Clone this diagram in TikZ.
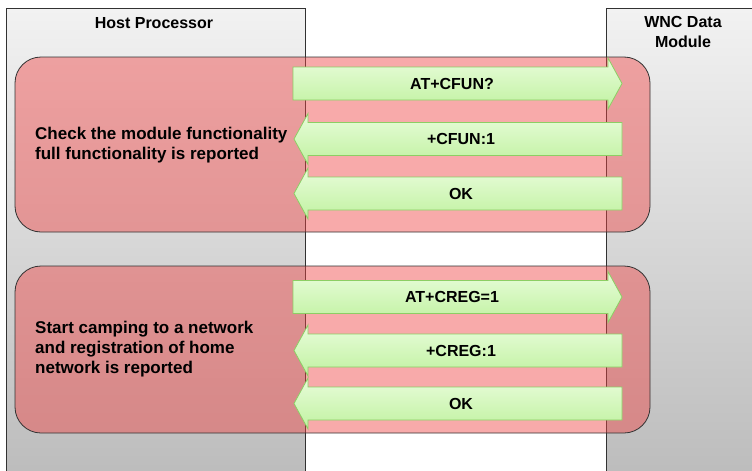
\documentclass[tikz,border=0pt]{standalone}
\usepackage{fontspec}
\setmainfont{Liberation Sans}
\definecolor{laneTop}{RGB}{242,242,242}
\definecolor{laneBot}{RGB}{186,186,186}
\definecolor{laneLine}{RGB}{50,50,50}
\definecolor{groupFill}{RGB}{240,68,68}
\definecolor{groupLine}{RGB}{50,50,50}
\definecolor{msgTop}{RGB}{232,252,218}
\definecolor{msgBot}{RGB}{192,242,160}
\definecolor{msgLine}{RGB}{140,206,100}
\tikzset{
  lane/.style={draw=laneLine, line width=0.8pt, top color=laneTop, bottom color=laneBot},
  lanetitle/.style={font=\bfseries\fontsize{16}{20}\selectfont, align=center, inner sep=0pt},
  group/.style={draw=groupLine, line width=0.8pt, fill=groupFill, fill opacity=0.45, rounded corners=26pt},
  grouptext/.style={font=\bfseries\fontsize{17}{20}\selectfont, align=left, anchor=west, inner sep=0pt},
  msgbox/.style={draw=msgLine, line width=0.8pt, top color=msgTop, bottom color=msgBot},
  msgtext/.style={font=\bfseries\fontsize{16}{20}\selectfont, inner sep=0pt, text height=11.5pt, text depth=0pt},
}
% block arrow pointing right, centred at height #1
\newcommand\msgR[1]{%
  \path[msgbox] (293,#1-16.5) -- (608,#1-16.5) -- (608,#1-25.5) -- (622,#1)
    -- (608,#1+25.5) -- (608,#1+16.5) -- (293,#1+16.5) -- cycle;}
% block arrow pointing left, centred at height #1
\newcommand\msgL[1]{%
  \path[msgbox] (622,#1-16.5) -- (308,#1-16.5) -- (308,#1-25.5) -- (294,#1)
    -- (308,#1+25.5) -- (308,#1+16.5) -- (622,#1+16.5) -- cycle;}
\begin{document}
\begin{tikzpicture}[x=1pt,y=-1pt]
\useasboundingbox (0,0) rectangle (752,471);
\clip (0,0) rectangle (752,471);
\fill[white] (0,0) rectangle (752,471);

% lifelines
\path[lane] (6,8) rectangle (305,495);
\path[lane] (606,8) rectangle (762,495);
\node[lanetitle] (host) at (154,23) {Host Processor};
\node[lanetitle] (wnc) at (683,32) {WNC Data\\Module};

% first exchange: functionality check
\path[group] (15,57) rectangle (650,232);
\node[grouptext] (g1) at (35,145) {Check the module functionality\\full functionality  is reported};
\msgR{83.5}
\node[msgtext] (m1) at (452,83.5) {AT+CFUN?};
\msgL{139}
\node[msgtext] (m2) at (461,139) {+CFUN:1};
\msgL{193.5}
\node[msgtext] (m3) at (461,193.5) {OK};

% second exchange: network registration
\path[group] (15,266) rectangle (650,433);
\node[grouptext] (g2) at (35,349.5) {Start camping to a network\\and registration of home\\network is reported};
\msgR{297}
\node[msgtext] (m4) at (452,297) {AT+CREG=1};
\msgL{350.5}
\node[msgtext] (m5) at (461,350.5) {+CREG:1};
\msgL{403.5}
\node[msgtext] (m6) at (461,403.5) {OK};
\end{tikzpicture}
\end{document}
